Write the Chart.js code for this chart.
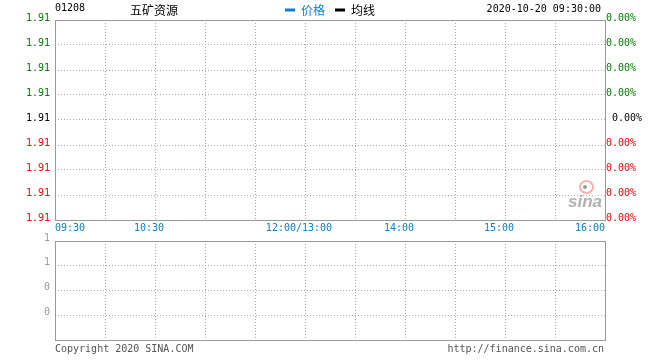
<!DOCTYPE html>
<html><head><meta charset="utf-8">
<script src="https://cdn.jsdelivr.net/npm/chart.js@4/dist/chart.umd.min.js"></script>
<style>
html,body{margin:0;padding:0;background:#fff;width:660px;height:360px;overflow:hidden}
#wrap{position:relative;width:660px;height:360px}
canvas{position:absolute;left:0}
.t{position:absolute;white-space:nowrap;font-family:"DejaVu Sans Mono",monospace;font-size:10px;line-height:12px}
.cjk{position:absolute;white-space:nowrap;font-family:"Noto Sans CJK SC",sans-serif;font-size:12px;line-height:14px}
</style></head><body>
<div id="wrap">
<canvas id="c1" width="660" height="240" style="top:0"></canvas>
<canvas id="c2" width="660" height="130" style="top:230px"></canvas>
<div class="t" id="code" style="left:55px;top:2px;color:#000"></div>
<div class="cjk" id="name" style="left:130px;top:3px;color:#000"></div>
<div class="t" id="time" style="right:59px;top:3px;color:#000"></div>
<div class="t" id="copy" style="left:55px;top:343px;color:#555"></div>
<div class="t" id="url" style="right:56px;top:343px;color:#555"></div>
<div style="position:absolute;left:579px;top:180px;width:11px;height:10px;border-radius:50%;border:2px solid rgba(240,110,110,0.55)"></div>
<div style="position:absolute;left:583px;top:185px;width:4px;height:4px;border-radius:50%;background:rgba(90,90,90,0.6)"></div>
<div style="position:absolute;left:568px;top:192px;font:italic bold 17px 'Liberation Sans',sans-serif;color:rgba(150,150,150,0.75)">sina</div>
</div>
<script>
// ---- data ----
const stockCode = '01208';
const stockName = '五矿资源';
const quoteTime = '2020-10-20 09:30:00';
const copyrightText = 'Copyright 2020 SINA.COM';
const sourceUrl = 'http://finance.sina.com.cn';
const seriesNames = ['价格', '均线'];
const prevClose = 1.91;
const priceMin = 1.90992;
const priceMax = 1.91008;
const timeTickMinutes = [0, 30, 60, 90, 120, 150, 180, 210, 240, 270, 300, 330];
const hourLabelMinutes = [0, 60, 150, 210, 270, 330];
const hourLabels = ['09:30', '10:30', '12:00/13:00', '14:00', '15:00', '16:00'];
const priceSeries = [];
const avgSeries = [];
const volumeSeries = [];
const volTickValues = [0, 0.25, 0.5, 0.75, 1];
const volTickLabels = ['', '0', '0', '1', '1'];

document.getElementById('code').textContent = stockCode;
document.getElementById('name').textContent = stockName;
document.getElementById('time').textContent = quoteTime;
document.getElementById('copy').textContent = copyrightText;
document.getElementById('url').textContent = sourceUrl;

const BLUE = '#0b80cf';
const GRID = '#aaaaaa';
const FRAME = '#9a9a9a';
const MONO = {family: "'DejaVu Sans Mono', monospace", size: 10};

const framePlugin = {
  id: 'frame',
  afterDraw(chart) {
    const a = chart.chartArea, ctx = chart.ctx;
    ctx.save();
    ctx.setLineDash([]);
    ctx.strokeStyle = FRAME;
    ctx.lineWidth = 1;
    ctx.strokeRect(a.left + 0.5, a.top + 0.5, a.right - a.left, a.bottom - a.top);
    ctx.restore();
  }
};

function pct(v) {
  const p = Math.round((v - prevClose) / prevClose * 100 * 100) / 100;
  return p.toFixed(2) + '%';
}
function priceColor(c) {
  const d = c.tick.value - prevClose;
  if (Math.abs(d) < 1e-9) return '#000000';
  return d > 0 ? '#008000' : '#ff0000';
}
const priceTickValues = () => Array.from({length: 9}, (_, i) => priceMin + i * (priceMax - priceMin) / 8);

new Chart(document.getElementById('c1'), {
  type: 'line',
  data: {
    datasets: [
      {label: seriesNames[0], data: priceSeries, borderColor: BLUE, backgroundColor: BLUE, borderWidth: 1, pointRadius: 0},
      {label: seriesNames[1], data: avgSeries, borderColor: '#000', backgroundColor: '#000', borderWidth: 1, pointRadius: 0}
    ]
  },
  options: {
    responsive: false, animation: false, devicePixelRatio: 1,
    layout: {padding: 0},
    plugins: {
      tooltip: {enabled: false},
      legend: {
        position: 'top',
        maxHeight: 20,
        labels: {
          boxWidth: 10, boxHeight: 3, padding: 4,
          font: {family: "'Noto Sans CJK SC', sans-serif", size: 12},
          generateLabels(chart) {
            const items = Chart.defaults.plugins.legend.labels.generateLabels(chart);
            return items.map((it, i) => Object.assign({}, it, {
              text: i < items.length - 1 ? it.text + '\u2002' : it.text,
              lineWidth: 0,
              fillStyle: chart.data.datasets[i].borderColor,
              fontColor: i === 0 ? BLUE : '#000'
            }));
          }
        }
      }
    },
    scales: {
      x: {
        type: 'linear', min: 0, max: 330,
        afterBuildTicks(s) { s.ticks = timeTickMinutes.map(v => ({value: v})); },
        afterFit(s) { s.height = 20; },
        grid: {color: GRID, drawTicks: false, lineWidth: 1},
        border: {display: false, dash: [1, 2]},
        ticks: {
          autoSkip: false, maxRotation: 0, align: 'inner', padding: 2,
          color: BLUE, font: MONO,
          callback(v) {
            const i = hourLabelMinutes.indexOf(v);
            if (i < 0) return '';
            return (i > 0 && i < hourLabels.length - 1) ? hourLabels[i] + '  ' : hourLabels[i];
          }
        }
      },
      y: {
        position: 'left', min: priceMin, max: priceMax,
        afterBuildTicks(s) { s.ticks = priceTickValues().map(v => ({value: v})); },
        afterFit(s) { s.width = 55; },
        grid: {color: GRID, drawTicks: false},
        border: {display: false, dash: [1, 2]},
        ticks: {padding: 5, labelOffset: -2, font: MONO, color: priceColor,
          callback(v) { return v.toFixed(2); }}
      },
      y2: {
        position: 'right', min: priceMin, max: priceMax,
        afterBuildTicks(s) { s.ticks = priceTickValues().map(v => ({value: v})); },
        afterFit(s) { s.width = 55; },
        grid: {drawOnChartArea: false, drawTicks: false},
        border: {display: false},
        ticks: {padding: 1, labelOffset: -2, font: MONO, color: priceColor,
          callback(v, i) { return (i === 4 ? ' ' : '') + pct(v); }}
      }
    }
  },
  plugins: [framePlugin]
});

new Chart(document.getElementById('c2'), {
  type: 'bar',
  data: {datasets: [{label: 'vol', data: volumeSeries, backgroundColor: BLUE}]},
  options: {
    responsive: false, animation: false, devicePixelRatio: 1,
    layout: {padding: {top: 10, right: 55, left: 0, bottom: 0}},
    plugins: {legend: {display: false}, tooltip: {enabled: false}},
    scales: {
      x: {
        type: 'linear', min: 0, max: 330, offset: false,
        afterBuildTicks(s) { s.ticks = timeTickMinutes.map(v => ({value: v})); },
        afterFit(s) { s.height = 20; },
        grid: {color: GRID, drawTicks: false, offset: false},
        border: {display: false, dash: [1, 2]},
        ticks: {autoSkip: false, maxRotation: 0, callback() { return ''; }}
      },
      y: {
        position: 'left', min: 0, max: 1,
        afterBuildTicks(s) { s.ticks = volTickValues.map(v => ({value: v})); },
        afterFit(s) { s.width = 55; },
        grid: {color: GRID, drawTicks: false},
        border: {display: false, dash: [1, 2]},
        ticks: {padding: 5, labelOffset: -3, font: MONO, color: '#999',
          callback(v, i) { return volTickLabels[i]; }}
      }
    }
  },
  plugins: [framePlugin]
});
</script>
</body></html>
